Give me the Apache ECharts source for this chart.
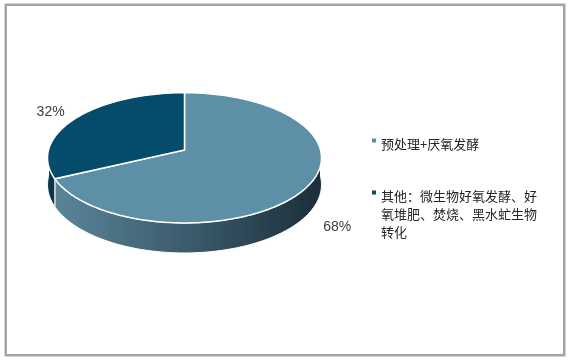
<!DOCTYPE html>
<html>
<head>
<meta charset="utf-8">
<script src="https://cdn.jsdelivr.net/npm/echarts@6/dist/echarts.min.js"></script>
<style>
html,body{margin:0;padding:0;background:#fff;}
#main{width:570px;height:361px;}
</style>
</head>
<body>
<div id="main"></div>
<script>
// 分类名称
var names = ['预处理+厌氧发酵', '其他：微生物好氧发酵、好氧堆肥、焚烧、黑水虻生物转化'];
// 占比(%)
var values = [68, 32];
// 顶面颜色 / 侧面渐变
var topColors = ['#5d8fa6', '#054b6b'];
var sideColors = [['#5a8599', '#3b5b6c', '#1b2e3a'], ['#15445a', '#0b3347', '#0b3347']];

// 3D饼图几何参数
var cx = 184.5, cy = 150, rx = 136, ry = 64.2, persp = 0.12, depth = 26.4;
var total = values.reduce(function (a, b) { return a + b; }, 0);

function proj(t, r, dz) {
    var u = Math.sin(t) * r, v = Math.cos(t) * r;
    var s = 1 / (1 + persp * v);
    return [cx + rx * u * s, cy + (-ry * v + (dz || 0)) * s];
}

function arc(a, b, r, dz) {
    var pts = [];
    var n = Math.max(4, Math.ceil(Math.abs(b - a) / 0.02));
    for (var k = 0; k <= n; k++) {
        pts.push(proj(a + (b - a) * k / n, r, dz));
    }
    return pts;
}

function makeRender(i) {
    return function (params, api) {
        var before = 0;
        for (var j = 0; j < i; j++) before += values[j];
        var a0 = Math.PI * 2 * before / total;
        var a1 = a0 + Math.PI * 2 * api.value(0) / total;
        var children = [];
        // 侧面 (只画前半部分)
        var s0 = Math.max(a0, Math.PI / 2), s1 = Math.min(a1, Math.PI * 3 / 2);
        if (s1 > s0) {
            var side = arc(s0, s1, 1, 0).concat(arc(s1, s0, 1, depth));
            children.push({
                type: 'polygon', z2: 1,
                shape: { points: side },
                style: {
                    fill: new echarts.graphic.LinearGradient(0, 0, 1, 0, [
                        { offset: 0, color: sideColors[i][0] },
                        { offset: 0.5, color: sideColors[i][1] },
                        { offset: 1, color: sideColors[i][2] }
                    ]),
                    stroke: '#fff', lineWidth: 1
                }
            });
        }
        // 顶面
        var top = [proj(0, 0, 0)].concat(arc(a0, a1, 1, 0));
        children.push({
            type: 'polygon', z2: 10,
            shape: { points: top },
            style: { fill: topColors[i], stroke: '#fff', lineWidth: 1.5 }
        });
        // 百分比标签
        var mid = (a0 + a1) / 2;
        var p = proj(mid, 1.24, Math.cos(mid) < 0 ? depth : 0);
        children.push({
            type: 'text', z2: 20,
            style: {
                text: api.value(0) + '%', x: p[0] - 2, y: p[1] + 2,
                align: 'center', verticalAlign: 'middle',
                font: '14px "Liberation Sans", Arial, sans-serif', fill: '#404040'
            }
        });
        return { type: 'group', children: children };
    };
}

var series = names.map(function (name, i) {
    return {
        type: 'custom',
        name: name,
        coordinateSystem: 'none',
        itemStyle: { color: topColors[i] },
        renderItem: makeRender(i),
        data: [[values[i]]]
    };
});

// 图例: 方块略高于文字第一行
function makeLegend(name, top, lead) {
    return {
        orient: 'vertical',
        left: 372,
        top: top,
        padding: 0,
        icon: 'path://M0,0h4v4h-4z M0,12h4',
        itemWidth: 4,
        itemHeight: 12,
        data: [name],
        formatter: function (n) { return lead + n; },
        textStyle: {
            color: '#262626',
            fontSize: 13,
            lineHeight: 18,
            fontFamily: '"Noto Sans CJK SC", sans-serif',
            width: 160,
            overflow: 'break'
        }
    };
}

var chart = echarts.init(document.getElementById('main'));
chart.setOption({
    animation: false,
    graphic: [
        { type: 'rect', silent: true, shape: { x: 4.5, y: 3.5, width: 561, height: 353 }, style: { fill: 'none', stroke: '#d4d4d4', lineWidth: 1 } },
        { type: 'rect', silent: true, shape: { x: 6, y: 5, width: 558, height: 350 }, style: { fill: 'none', stroke: '#858585', lineWidth: 1.5 } }
    ],
    legend: [
        makeLegend(names[0], 135.5, ''),
        makeLegend(names[1], 151.5, '\n\n')
    ],
    series: series
});
</script>
</body>
</html>
